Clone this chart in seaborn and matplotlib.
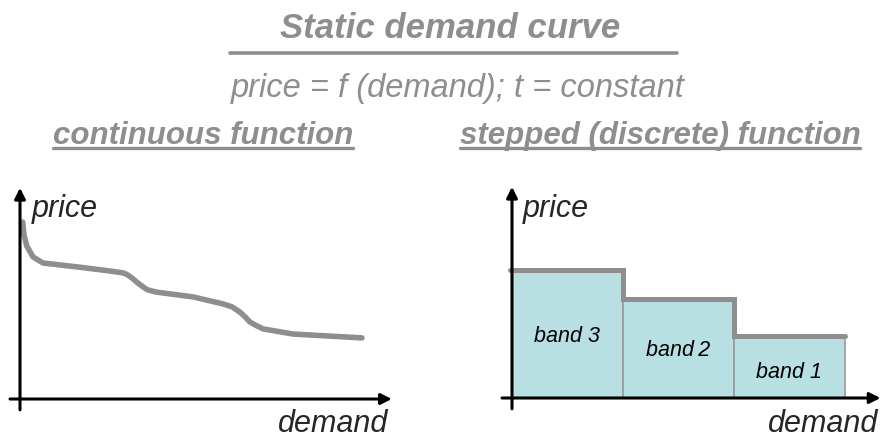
import matplotlib
matplotlib.use('Agg')
import matplotlib.pyplot as plt
import seaborn as sns
from matplotlib.lines import Line2D

# continuous demand curve
curve_demand = [0.024, 0.036, 0.06, 0.117, 0.207, 0.51, 0.81, 0.93, 0.97, 1.02,
                1.06, 1.11, 1.15, 1.23, 1.56, 1.83, 1.91, 1.98, 2.03, 2.07,
                2.12, 2.19, 2.46, 2.77, 3.08]
curve_price = [5.53, 5.13, 4.79, 4.44, 4.25, 4.13, 4.00, 3.94, 3.88, 3.75,
               3.63, 3.50, 3.41, 3.34, 3.19, 2.97, 2.88, 2.72, 2.56, 2.41,
               2.31, 2.19, 2.03, 1.97, 1.91]

# stepped function: band edges on the demand axis and the price of each band
band_edges = [0, 1, 2, 3]
band_prices = [4.0, 3.1, 1.95]
band_labels = ['band 3', 'band\u20092', 'band 1']
band_label_y = [1.94, 1.5, 0.84]

title = 'Static demand curve'
subtitle = 'price = f (demand); t = constant'
headers = ['continuous function', 'stepped (discrete) function']

GREY = '#8e8e8e'
FILL = '#b8dfe2'

sns.set_theme(style='white')
plt.rcParams['font.family'] = ['Liberation Sans', 'DejaVu Sans']

W, H = 887, 439
fig = plt.figure(figsize=(W / 100, H / 100), dpi=100)


def fx(px):
    return px / W


def fy(py):
    return 1 - py / H


# one axes per panel, 1 demand unit = 111 px, 1 price unit = 32 px
ax1 = fig.add_axes([0, 0, 443 / W, 259 / H])
ax2 = fig.add_axes([443 / W, 0, 444 / W, 259 / H])
ax1.set_xlim(-20 / 111, 423 / 111)
ax1.set_ylim(-39 / 32, 220 / 32)
ax2.set_xlim(-69 / 111, 375 / 111)
ax2.set_ylim(-40 / 32, 219 / 32)

# left: continuous curve
sns.lineplot(x=curve_demand, y=curve_price, sort=False, ax=ax1, color=GREY,
             lw=4.0, solid_capstyle='round', solid_joinstyle='round')

# right: bands + stepped price line
ax2.bar(band_edges[:-1], band_prices, width=1, align='edge', color=FILL,
        edgecolor='#9a9a9a', lw=1.2, zorder=1)
step_y = band_prices + [band_prices[-1]]
sns.lineplot(x=[band_edges[0] - 0.02] + band_edges[1:], y=step_y, ax=ax2,
             drawstyle='steps-post', color=GREY, lw=3.6,
             solid_capstyle='round', solid_joinstyle='miter', zorder=3)
for i, lab in enumerate(band_labels):
    mid = (band_edges[i] + band_edges[i + 1]) / 2
    ax2.text(mid, band_label_y[i], lab, ha='center', va='center',
             fontsize=15.5, style='italic', color='black', zorder=4)

# axes with arrows
for ax, ytop, xend in [(ax1, 6.6, 3.35), (ax2, 6.6, 3.32)]:
    arrow = dict(arrowstyle='-|>', color='black', lw=2.2,
                 mutation_scale=16, shrinkA=0, shrinkB=0)
    ax.annotate('', xy=(xend, 0), xytext=(-0.09, 0), arrowprops=arrow, zorder=5)
    ax.annotate('', xy=(0, ytop), xytext=(0, -0.34), arrowprops=arrow, zorder=5)
    ax.axis('off')

ax1.text(0.11, 5.72, 'price', fontsize=22, style='italic', va='baseline')
ax1.text(3.32, -1.0, 'demand', fontsize=22, style='italic', ha='right', va='baseline')
ax2.text(0.10, 5.69, 'price', fontsize=22, style='italic', va='baseline')
ax2.text(3.30, -1.03, 'demand', fontsize=22, style='italic', ha='right', va='baseline')

# headings
fig.text(fx(450), fy(38), title, ha='center', va='baseline', fontsize=25,
         fontweight='bold', style='italic', color=GREY)
fig.add_artist(Line2D([fx(230), fx(677)], [fy(53.5)] * 2, lw=2.6, color=GREY))
fig.text(fx(458), fy(97), subtitle, ha='center', va='baseline', fontsize=23.5,
         style='italic', color=GREY)

hdr_texts = []
for cx, txt in zip([203, 660], headers):
    hdr_texts.append(fig.text(fx(cx), fy(144), txt, ha='center', va='baseline',
                              fontsize=22.5, fontweight='bold', style='italic',
                              color=GREY))

fig.canvas.draw()
renderer = fig.canvas.get_renderer()
for t in hdr_texts:
    bb = t.get_window_extent(renderer)
    fig.add_artist(Line2D([bb.x0 / W, bb.x1 / W], [fy(148.5)] * 2, lw=2.4, color=GREY))

fig.savefig('out.png', dpi=100)
